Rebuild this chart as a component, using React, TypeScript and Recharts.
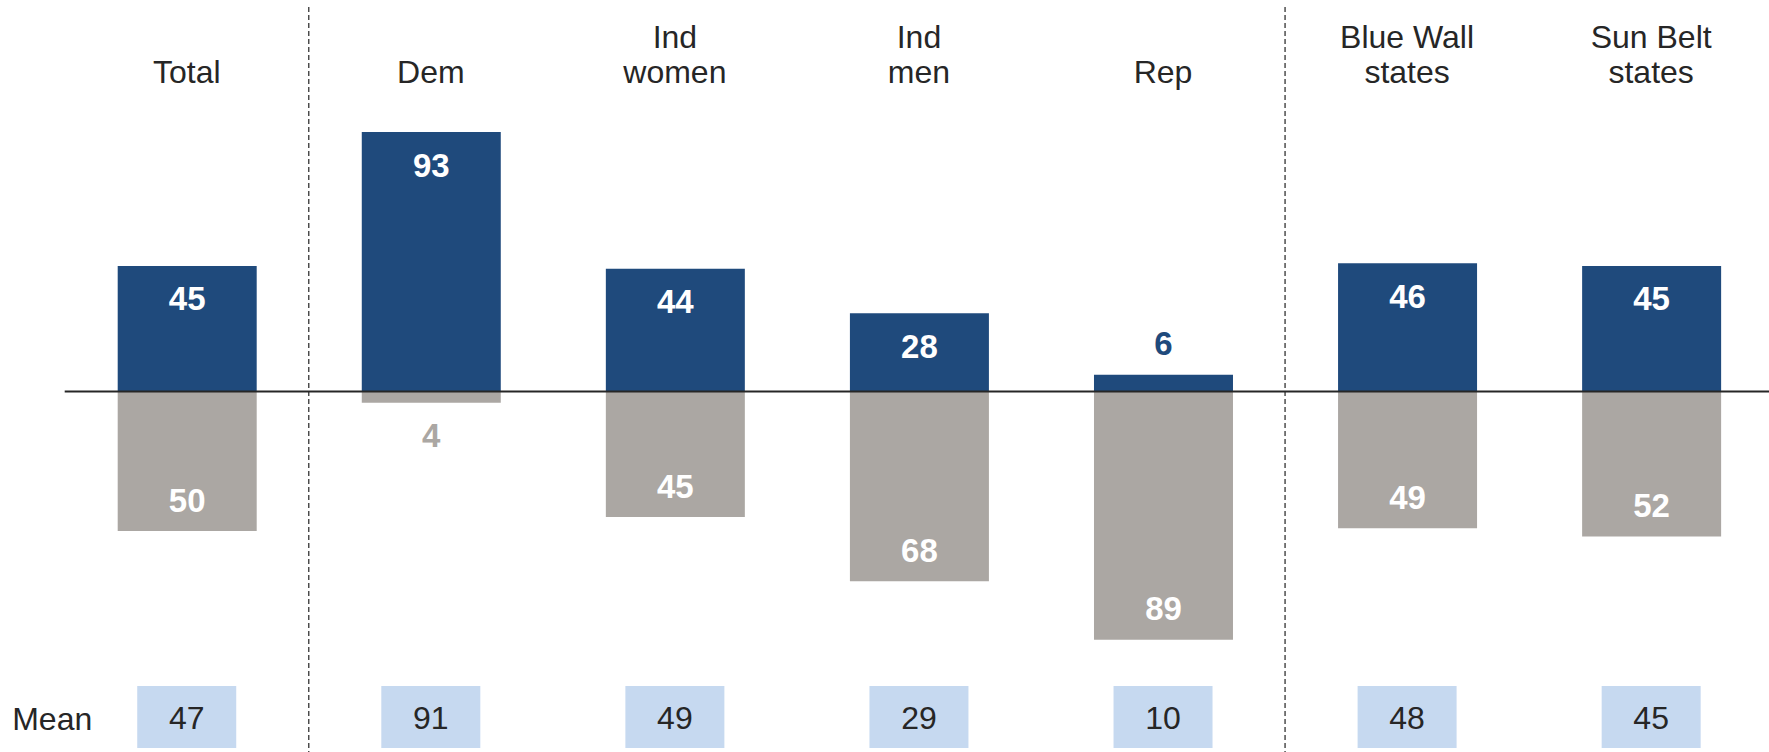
import { BarChart, Bar, XAxis, YAxis, ReferenceLine, LabelList, Label } from 'recharts'

const groups = ['Total', 'Dem', 'Ind women', 'Ind men', 'Rep', 'Blue Wall states', 'Sun Belt states']
const groupLines = [['Total'], ['Dem'], ['Ind', 'women'], ['Ind', 'men'], ['Rep'], ['Blue Wall', 'states'], ['Sun Belt', 'states']]
const support = [45, 93, 44, 28, 6, 46, 45]
const oppose = [50, 4, 45, 68, 89, 49, 52]
const means = [47, 91, 49, 29, 10, 48, 45]
// dashed section breaks before these groups
const sectionStarts = ['Dem', 'Blue Wall states']

const NAVY = '#1F4A7C'
const GRAY = '#ABA7A3'
const MEAN_BG = '#C6D9F0'
const INK = '#262626'
const FONT = '"Liberation Sans", Arial, sans-serif'

const data = groups.map((g, i) => ({ group: g, support: support[i], oppose: -oppose[i] }))

function box(props: any) {
  const vb = props.viewBox && props.viewBox.width != null ? props.viewBox : props
  const top = Math.min(vb.y, vb.y + vb.height)
  const bottom = Math.max(vb.y, vb.y + vb.height)
  return { cx: vb.x + vb.width / 2, top, bottom }
}

function SupportLabel(props: any) {
  const { cx, top } = box(props)
  const v = Math.abs(Number(props.value))
  const inside = v >= 10
  return (
    <text x={cx} y={inside ? top + 33 : top - 31} textAnchor="middle" dominantBaseline="central"
      fill={inside ? '#fff' : NAVY} fontSize={33} fontWeight="bold" fontFamily={FONT}>
      {v}
    </text>
  )
}

function OpposeLabel(props: any) {
  const { cx, bottom } = box(props)
  const v = Math.abs(Number(props.value))
  const inside = v >= 10
  return (
    <text x={cx} y={inside ? bottom - 31 : bottom + 33} textAnchor="middle" dominantBaseline="central"
      fill={inside ? '#fff' : GRAY} fontSize={33} fontWeight="bold" fontFamily={FONT}>
      {v}
    </text>
  )
}

// one tick = the group heading at the top and its mean cell at the bottom
function GroupTick(props: any) {
  const { x, y, payload } = props
  const idx = groups.indexOf(payload.value)
  const lines = groupLines[idx] || [payload.value]
  const last = y + 76
  const rowY = y + 745
  return (
    <g>
      <text textAnchor="middle" fill={INK} fontSize={32} fontFamily={FONT}>
        {lines.map((l, i) => (
          <tspan key={l} x={x} y={last - (lines.length - 1 - i) * 35}>{l}</tspan>
        ))}
      </text>
      <rect x={x - 49.5} y={rowY - 66} width={99} height={62} fill={MEAN_BG} />
      <text x={x} y={rowY - 23} textAnchor="middle" fill={INK} fontSize={32} fontFamily={FONT}>{means[idx]}</text>
    </g>
  )
}

function MeanRowLabel(props: any) {
  const vb = props.viewBox
  return (
    <text x={vb.x - 52.5} y={vb.y + vb.height + 723} fill={INK} fontSize={32} fontFamily={FONT}>Mean</text>
  )
}

export default function App() {
  return (
    <div style={{ position: 'absolute', left: 0, top: 0, width: 1769, height: 752, overflow: 'hidden', background: '#fff' }}>
      <BarChart
        width={1774}
        height={752}
        data={data}
        stackOffset="sign"
        margin={{ top: 6, right: 0.8, bottom: 0, left: 64.7 }}
      >
        <XAxis
          dataKey="group"
          orientation="top"
          height={1}
          axisLine={false}
          tickLine={false}
          tickSize={0}
          tickMargin={0}
          interval={0}
          tick={GroupTick}
        >
          <Label content={MeanRowLabel} />
        </XAxis>
        <YAxis type="number" domain={[-129.2, 137.8]} allowDataOverflow hide />
        {sectionStarts.map((g) => (
          <ReferenceLine key={g} x={g} position="start" stroke="#333333" strokeWidth={1.3} strokeDasharray="5 3" />
        ))}
        <Bar dataKey="support" stackId="a" fill={NAVY} barSize={139} isAnimationActive={false}>
          <LabelList dataKey="support" content={SupportLabel} />
        </Bar>
        <Bar dataKey="oppose" stackId="a" fill={GRAY} barSize={139} isAnimationActive={false}>
          <LabelList dataKey="oppose" content={OpposeLabel} />
        </Bar>
        <ReferenceLine y={0} stroke={INK} strokeWidth={2} />
      </BarChart>
    </div>
  )
}
